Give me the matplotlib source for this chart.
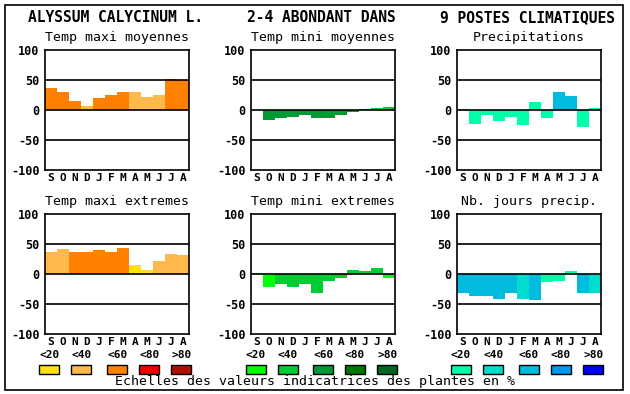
import matplotlib
matplotlib.use("Agg")
import matplotlib.pyplot as plt
from matplotlib.patches import Rectangle

months = ["S", "O", "N", "D", "J", "F", "M", "A", "M", "J", "J", "A"]
scale_labels = ["<20", "<40", "<60", "<80", ">80"]
yticks = [100, 50, 0, -50, -100]

titles = ["ALYSSUM CALYCINUM L.", "2-4 ABONDANT DANS", "9 POSTES CLIMATIQUES"]
panel_titles = ["Temp maxi moyennes", "Temp mini moyennes", "Precipitations",
                "Temp maxi extremes", "Temp mini extremes", "Nb. jours precip."]
footer = "Echelles des valeurs indicatrices des plantes en %"

temp_colors = ["#FFE014", "#FFB84C", "#FF8000", "#EE0000", "#B01000"]
green_colors = ["#00FF00", "#00CC33", "#009933", "#007700", "#006622"]
blue_colors = ["#00FFAA", "#00DDCC", "#00BBDD", "#0099EE", "#0000FF"]

tmax_moy = [37, 30, 15, 7, 20, 25, 30, 30, 22, 25, 52, 50]
tmax_moy_cls = [2, 2, 2, 1, 2, 2, 2, 1, 1, 1, 2, 2]
tmin_moy = [0, -16, -14, -12, -8, -13, -13, -8, -3, 2, 3, 5]
tmin_moy_cls = [2, 2, 2, 2, 2, 2, 2, 2, 2, 1, 1, 1]
precip = [2, -23, -8, -18, -12, -25, 14, -14, 30, 23, -28, 3]
precip_cls = [0, 0, 0, 0, 0, 0, 0, 0, 2, 2, 0, 0]
tmax_ext = [37, 42, 37, 37, 40, 37, 44, 15, 7, 22, 34, 32]
tmax_ext_cls = [1, 1, 2, 2, 2, 2, 2, 0, 0, 1, 1, 1]
tmin_ext = [2, -21, -17, -21, -17, -31, -11, -7, 7, 5, 10, -7]
tmin_ext_cls = [0, 0, 1, 1, 1, 1, 1, 1, 1, 1, 1, 0]
jours = [-32, -36, -36, -41, -32, -41, -44, -13, -11, 5, -32, -31]
jours_cls = [2, 2, 2, 2, 2, 1, 2, 0, 0, 0, 2, 1]

panels = [
    (tmax_moy, tmax_moy_cls, temp_colors),
    (tmin_moy, tmin_moy_cls, green_colors),
    (precip, precip_cls, blue_colors),
    (tmax_ext, tmax_ext_cls, temp_colors),
    (tmin_ext, tmin_ext_cls, green_colors),
    (jours, jours_cls, blue_colors),
]

W, H = 630, 394
fig = plt.figure(figsize=(W / 100, H / 100), dpi=100)
fig.patch.set_facecolor("white")

mono = "DejaVu Sans Mono"

def fx(x):
    return x / W

def fy(y):
    return 1 - y / H

# outer frame
fig.add_artist(Rectangle((fx(4.5), fy(390)), fx(623) - fx(4.5), fy(4.5) - fy(390),
                         transform=fig.transFigure, fill=False, lw=1.2, ec="black"))

xlefts = [45, 251, 457]
tops = [50, 214]
aw, ah = 144, 120

for i, (vals, cls, cols) in enumerate(panels):
    r, c = divmod(i, 3)
    x0 = xlefts[c]
    y0 = tops[r]
    ax = fig.add_axes([fx(x0), fy(y0 + ah), aw / W, ah / H])
    xs = list(range(12))
    ax.bar(xs, vals, width=1.0, color=[cols[k] for k in cls], linewidth=0, zorder=2)
    for v in (50, 0, -50):
        ax.axhline(v, color="black", lw=1.2, zorder=3)
    ax.set_xlim(-0.5, 11.5)
    ax.set_ylim(-100, 100)
    ax.set_yticks(yticks)
    ax.set_yticklabels([str(t) for t in yticks], fontfamily=mono, fontweight="bold", fontsize=8.5)
    ax.set_xticks(xs)
    ax.set_xticklabels(months, fontfamily=mono, fontweight="bold", fontsize=8)
    ax.tick_params(length=0, pad=4)
    ax.tick_params(axis="x", pad=2)
    for s in ax.spines.values():
        s.set_linewidth(1.2)
        s.set_color("black")
    fig.text(fx(x0 + aw / 2), fy(y0 - 12), panel_titles[i], ha="center", va="center",
             fontfamily=mono, fontsize=9.5)

# main titles
for c, t in enumerate(titles):
    fig.text(fx(xlefts[c] + aw / 2 - 2), fy(18), t, ha="center", va="center",
             fontfamily=mono, fontweight="bold", fontsize=10.5)

# scale legend
box_centers = [
    [49.3, 81.3, 117.3, 149.3, 181.5],
    [256, 287.7, 323.3, 355, 387.3],
    [461, 493.3, 529, 561, 593.3],
]
color_sets = [temp_colors, green_colors, blue_colors]
for c in range(3):
    for k in range(5):
        cx = box_centers[c][k]
        fig.add_artist(Rectangle((fx(cx - 10), fy(373.5)), 20 / W, 9 / H,
                                 transform=fig.transFigure, fc=color_sets[c][k],
                                 ec="black", lw=1.0))
        fig.text(fx(cx), fy(355), scale_labels[k], ha="center", va="center",
                 fontfamily=mono, fontweight="bold", fontsize=8)

fig.text(fx(315), fy(382), footer, ha="center", va="center",
         fontfamily=mono, fontsize=9.5)

fig.savefig("out.png", dpi=100, facecolor="white")
